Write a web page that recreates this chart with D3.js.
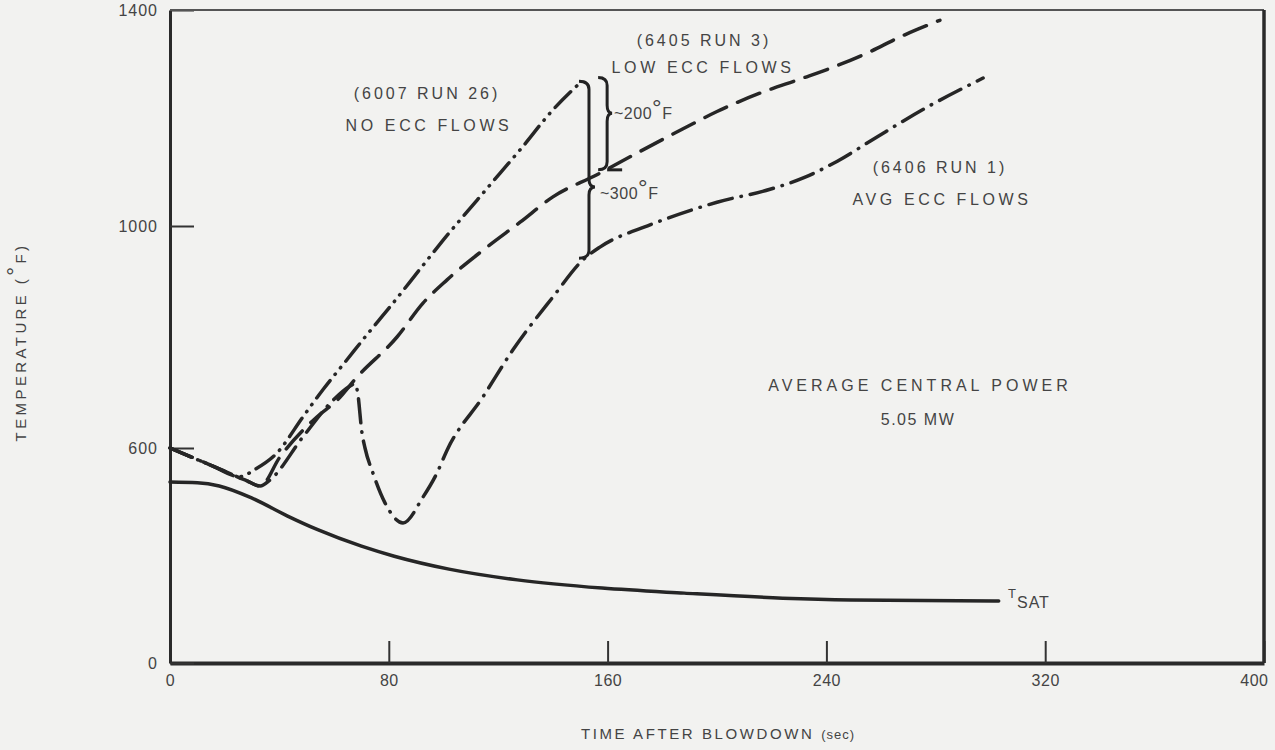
<!DOCTYPE html>
<html>
<head>
<meta charset="UTF-8" />
<script src="https://d3js.org/d3.v7.min.js"></script>
<title>Temperature after blowdown</title>
<style>
  body { margin: 0; background: #f2f2f0; }
  svg { display: block; }
  text { font-family: "Liberation Sans", Arial, sans-serif; fill: #444; }
</style>
</head>
<body>
<svg id="chart" width="1275" height="750"></svg>
<script>
// time (sec) and temperature (F)
var tsatT = [0, 10, 18, 30, 43, 54, 70, 82, 102, 127, 158, 188, 224, 249, 303];
var tsatV = [505, 503, 494, 460, 410, 372, 326, 298, 262, 232, 209, 195, 181, 176, 173];

var run6406T = [0, 14.6, 27.4, 33, 36.6, 48.6, 59.6, 66, 67.6, 68.6, 70.2, 71.3, 74.2, 78.6, 85.2, 92.5, 97.6, 101.3, 114.4, 125.4, 140, 151, 157.2, 175.5, 200, 219.4, 232, 244, 258.5, 276.8, 297.3];
var run6406V = [600, 553, 511, 494, 511, 620, 686, 712, 716, 700, 627, 600, 530, 447, 391, 463, 530, 594, 692, 777, 872, 939, 962, 1002, 1044, 1068, 1090, 1120, 1165, 1220, 1274];

var run6405T = [0, 14.6, 27.4, 33, 40.2, 53.7, 61.1, 68.4, 83, 92.5, 101.3, 115.9, 128, 140, 156.1, 171.8, 187.6, 200, 215.7, 230.3, 242.4, 254.8, 266.9, 281.5];
var run6405V = [600, 553, 511, 494, 575, 656, 686, 728, 800, 861, 903, 962, 1007, 1054, 1095, 1138, 1180, 1212, 1246, 1272, 1294, 1320, 1350, 1381];

var run6007T = [0, 14.6, 25.6, 31, 39.1, 48.6, 55.9, 64.7, 72, 80.4, 92.5, 99.8, 112.3, 120.7, 128, 140, 149.9];
var run6007V = [600, 553, 520, 540, 586, 656, 705, 759, 804, 854, 929, 974, 1048, 1098, 1141, 1215, 1265];

var xTicks = [0, 80, 160, 240, 320, 400];
var yTicks = [0, 600, 1000, 1400];

// braces: time, top, cusp, bottom temperature
var braceBig = [151, 1268, 1072, 942];
var braceSmall = [158, 1275, 1209, 1104];

var svg = d3.select("#chart");

var x = d3.scaleLinear().domain([0, 400]).range([170, 1264]);
// the original vertical axis is not uniform below 600
var y = d3.scaleLinear().domain([0, 600, 1000, 1400]).range([663, 448, 226, 10]);

svg.append("g")
  .attr("transform", "translate(0," + y(0) + ")")
  .call(d3.axisBottom(x).tickValues(xTicks).tickFormat(d3.format("d"))
    .tickSizeInner(-22).tickSizeOuter(0).tickPadding(12))
  .call(function(g) {
    g.select(".domain").attr("stroke", "#2a2a2a").attr("stroke-width", 4);
    g.selectAll(".tick line").attr("stroke", "#333").attr("stroke-width", 2);
    g.selectAll(".tick text").attr("font-size", 16).attr("letter-spacing", 0.5).style("fill", "#444");
    g.selectAll(".tick text").filter(function(d) { return d === 400; })
      .attr("text-anchor", "end").attr("x", 4);
  });

svg.append("g")
  .attr("transform", "translate(" + x(0) + ",0)")
  .call(d3.axisLeft(y).tickValues(yTicks).tickFormat(d3.format("d"))
    .tickSizeInner(-24).tickSizeOuter(0).tickPadding(12))
  .call(function(g) {
    g.select(".domain").attr("stroke", "#2a2a2a").attr("stroke-width", 3);
    g.selectAll(".tick line").attr("stroke", "#333").attr("stroke-width", 2);
    g.selectAll(".tick text").attr("font-size", 16).attr("letter-spacing", 1).style("fill", "#444");
  });

// top and right frame
svg.append("line")
  .attr("x1", x(0)).attr("x2", x(400)).attr("y1", y(1400)).attr("y2", y(1400))
  .attr("stroke", "#555").attr("stroke-width", 2);
svg.append("line")
  .attr("x1", x(400)).attr("x2", x(400)).attr("y1", y(1400)).attr("y2", y(0))
  .attr("stroke", "#2a2a2a").attr("stroke-width", 3.5);

var line = d3.line()
  .x(function(d) { return x(d[0]); })
  .y(function(d) { return y(d[1]); })
  .curve(d3.curveMonotoneX);

function series(ts, vs, dash, w) {
  svg.append("path")
    .attr("d", line(d3.zip(ts, vs)))
    .attr("fill", "none")
    .attr("stroke", "#262626")
    .attr("stroke-width", w)
    .attr("stroke-linecap", "round")
    .attr("stroke-dasharray", dash);
}

series(tsatT, tsatV, null, 3.5);
series(run6405T, run6405V, "24,12", 3.5);
series(run6406T, run6406V, "24,9,0.5,9", 3.5);
series(run6007T, run6007V, "22,8,0.5,8,0.5,8", 3.5);

// curly braces
function brace(b, w) {
  var xa = x(b[0]), y1 = y(b[1]), ym = y(b[2]), y2 = y(b[3]), h = w / 2, r = 8;
  var p = d3.path();
  p.moveTo(xa - 4, y1);
  p.quadraticCurveTo(xa + h, y1, xa + h, y1 + r);
  p.lineTo(xa + h, ym - r);
  p.quadraticCurveTo(xa + h, ym, xa + w, ym);
  p.quadraticCurveTo(xa + h, ym, xa + h, ym + r);
  p.lineTo(xa + h, y2 - r);
  p.quadraticCurveTo(xa + h, y2, xa - 4, y2);
  svg.append("path").attr("d", p.toString())
    .attr("fill", "none").attr("stroke", "#222").attr("stroke-width", 3);
}
brace(braceBig, 12);
brace(braceSmall, 10);
// foot of the small brace joining the low ECC curve
svg.append("line")
  .attr("x1", x(braceSmall[0]) + 5).attr("x2", x(braceSmall[0]) + 20)
  .attr("y1", y(braceSmall[3])).attr("y2", y(braceSmall[3]))
  .attr("stroke", "#222").attr("stroke-width", 3);

function label(px, py, str, opts) {
  opts = opts || {};
  return svg.append("text")
    .attr("x", px).attr("y", py)
    .attr("font-size", opts.size || 16)
    .attr("letter-spacing", opts.ls == null ? 3.6 : opts.ls)
    .attr("text-anchor", opts.anchor || "middle")
    .text(str);
}

label(427, 99, "(6007 RUN 26)", { ls: 3 });
label(429, 131, "NO ECC FLOWS");
label(704, 46, "(6405 RUN 3)", { ls: 3 });
label(703, 73, "LOW ECC FLOWS");
label(940, 173, "(6406 RUN 1)", { ls: 3 });
label(942, 205, "AVG ECC FLOWS");
label(920, 391, "AVERAGE CENTRAL POWER", { ls: 4 });
label(918, 425, "5.05 MW", { ls: 1.5 });

function degLabel(px, py, num) {
  var t = svg.append("text").attr("x", px).attr("y", py)
    .attr("font-size", 16).attr("letter-spacing", 0.5);
  t.append("tspan").text("~" + num);
  t.append("tspan").attr("dy", -3).attr("font-size", 24).text("°");
  t.append("tspan").attr("dy", 3).text("F");
}
degLabel(614, 119, "200");
degLabel(600, 199, "300");

var tsat = svg.append("text").attr("x", 1008).attr("y", 608).attr("font-size", 16).attr("letter-spacing", 1);
tsat.append("tspan").attr("dy", -10).attr("font-size", 13).text("T");
tsat.append("tspan").attr("dy", 10).text("SAT");

var xl = svg.append("text").attr("x", 718).attr("y", 739)
  .attr("text-anchor", "middle").attr("font-size", 15).attr("letter-spacing", 2.6);
xl.append("tspan").text("TIME AFTER BLOWDOWN ");
xl.append("tspan").attr("font-size", 13).attr("letter-spacing", 1).text("(sec)");

var yl = svg.append("text")
  .attr("transform", "translate(26,342) rotate(-90)")
  .attr("text-anchor", "middle").attr("font-size", 15).attr("letter-spacing", 3.4);
yl.append("tspan").text("TEMPERATURE (");
yl.append("tspan").attr("dy", -3).attr("font-size", 22).text("°");
yl.append("tspan").attr("dy", 3).text("F)");
</script>
</body>
</html>
